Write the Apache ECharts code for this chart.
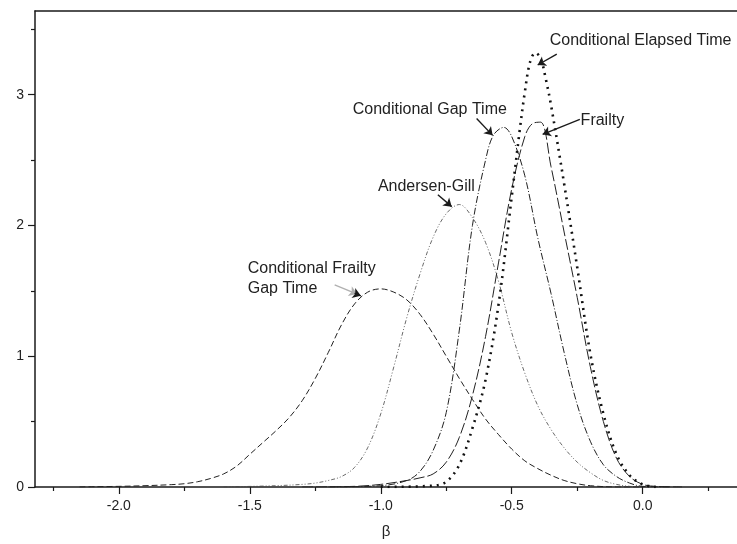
<!DOCTYPE html>
<html>
<head>
<meta charset="utf-8">
<script src="https://cdn.jsdelivr.net/npm/echarts@6/dist/echarts.min.js"></script>
<style>
  html, body { margin: 0; padding: 0; background: #fff; }
  #chart { width: 737px; height: 544px; }
</style>
</head>
<body>
<div id="chart"></div>
<script>
// tick positions
const xLabelValues = [-2.0, -1.5, -1.0, -0.5, 0.0]
const xMinorValues = [-2.25, -1.75, -1.25, -0.75, -0.25, 0.25]
const yLabelValues = [0, 1, 2, 3]
const yMinorValues = [0.5, 1.5, 2.5, 3.5]

// Conditional Frailty Gap Time
const fgX = [-2.15, -2.0, -1.9, -1.8, -1.75, -1.7, -1.65, -1.6, -1.55, -1.5, -1.45, -1.4, -1.35, -1.3, -1.25, -1.2, -1.15, -1.1, -1.05, -1.0, -0.95, -0.9, -0.85, -0.8, -0.75, -0.7, -0.65, -0.6, -0.55, -0.5, -0.45, -0.4, -0.35, -0.3, -0.25, -0.2, -0.1, 0.0]
const fgY = [0, 0.005, 0.01, 0.018, 0.025, 0.04, 0.065, 0.1, 0.16, 0.25, 0.34, 0.43, 0.53, 0.66, 0.83, 1.03, 1.24, 1.4, 1.49, 1.515, 1.49, 1.43, 1.32, 1.17, 1.0, 0.83, 0.67, 0.52, 0.4, 0.29, 0.2, 0.14, 0.09, 0.05, 0.025, 0.01, 0, 0]

// Andersen-Gill
const agX = [-1.6, -1.4, -1.3, -1.25, -1.2, -1.15, -1.1, -1.05, -1.0, -0.95, -0.9, -0.85, -0.8, -0.75, -0.7, -0.65, -0.6, -0.55, -0.5, -0.45, -0.4, -0.35, -0.3, -0.25, -0.2, -0.15, -0.1, -0.05, 0.0]
const agY = [0, 0.01, 0.02, 0.03, 0.05, 0.08, 0.15, 0.3, 0.56, 0.92, 1.3, 1.63, 1.91, 2.09, 2.16, 2.06, 1.87, 1.57, 1.18, 0.87, 0.62, 0.44, 0.3, 0.19, 0.11, 0.05, 0.02, 0.005, 0]

// Conditional Gap Time
const cgX = [-1.2, -1.0, -0.9, -0.85, -0.8, -0.75, -0.7, -0.65, -0.6, -0.57, -0.53, -0.5, -0.45, -0.4, -0.35, -0.3, -0.25, -0.2, -0.15, -0.1, -0.05, 0.0, 0.1]
const cgY = [0, 0.01, 0.05, 0.12, 0.28, 0.57, 1.2, 2.0, 2.5, 2.69, 2.75, 2.68, 2.38, 1.9, 1.48, 1.03, 0.63, 0.35, 0.17, 0.08, 0.03, 0.005, 0]

// Frailty
const frX = [-1.3, -1.1, -1.0, -0.9, -0.85, -0.8, -0.75, -0.7, -0.65, -0.6, -0.55, -0.5, -0.45, -0.42, -0.39, -0.35, -0.3, -0.25, -0.2, -0.15, -0.1, -0.05, 0.0, 0.05, 0.15]
const frY = [0, 0.005, 0.02, 0.05, 0.07, 0.1, 0.19, 0.38, 0.7, 1.15, 1.72, 2.28, 2.68, 2.78, 2.79, 2.45, 1.95, 1.45, 0.92, 0.5, 0.22, 0.08, 0.02, 0.005, 0]

// Conditional Elapsed Time
const ceX = [-1.0, -0.8, -0.75, -0.7, -0.65, -0.6, -0.55, -0.5, -0.47, -0.45, -0.43, -0.41, -0.39, -0.37, -0.35, -0.3, -0.25, -0.2, -0.15, -0.1, -0.05, 0.0, 0.05]
const ceY = [0, 0.01, 0.04, 0.17, 0.45, 0.82, 1.4, 2.22, 2.72, 3.02, 3.25, 3.32, 3.28, 3.12, 2.92, 2.32, 1.68, 1.02, 0.56, 0.25, 0.09, 0.02, 0]

const FONT = 'Liberation Sans, Arial, sans-serif'
const INK = '#1a1a1a'

const pairs = (xs, ys) => xs.map((x, i) => [x, ys[i]])

// text label anchored at a data point (left edge, vertical middle)
const note = (text, coord) => ({
  coord,
  symbol: 'rect',
  symbolSize: 0,
  label: {
    show: true,
    position: 'right',
    distance: 0,
    formatter: text,
    fontFamily: FONT,
    fontSize: 16,
    lineHeight: 20,
    color: '#222'
  }
})

const arrow = (from, to, color) => [
  { coord: from, lineStyle: { color: color || INK } },
  { coord: to }
]

const curve = (name, xs, ys, lineStyle, notes, arrows) => ({
  name,
  type: 'line',
  data: pairs(xs, ys),
  smooth: 0.35,
  showSymbol: false,
  symbol: 'none',
  lineStyle: Object.assign({ color: INK, width: 1 }, lineStyle),
  markPoint: { silent: true, data: notes },
  markLine: {
    silent: true,
    symbol: ['none', 'arrow'],
    symbolSize: 8,
    label: { show: false },
    lineStyle: { color: INK, width: 1.4, type: 'solid' },
    data: arrows
  }
})

const chart = echarts.init(document.getElementById('chart'))

const tickLabel = { fontFamily: FONT, fontSize: 14, color: '#222' }

chart.setOption({
  animation: false,
  grid: { left: 35, right: 0, top: 11, bottom: 52 },
  xAxis: [
    {
      type: 'value', min: -2.32, max: 0.36,
      name: 'β', nameLocation: 'middle', nameGap: 37,
      nameTextStyle: { fontFamily: FONT, fontSize: 15, color: '#222' },
      axisLine: { onZero: false, lineStyle: { color: INK, width: 1.5 } },
      axisTick: { show: true, length: 7, customValues: xLabelValues, lineStyle: { color: INK, width: 1.2 } },
      axisLabel: Object.assign({ customValues: xLabelValues, margin: 12, formatter: v => v.toFixed(1) }, tickLabel),
      splitLine: { show: false }
    },
    {
      type: 'value', min: -2.32, max: 0.36, position: 'bottom',
      axisLine: { show: false, onZero: false },
      axisTick: { show: true, length: 4, customValues: xMinorValues, lineStyle: { color: INK, width: 1.2 } },
      axisLabel: { show: false },
      splitLine: { show: false }
    },
    {
      type: 'value', min: -2.32, max: 0.36, position: 'top',
      axisLine: { onZero: false, lineStyle: { color: INK, width: 1.5 } },
      axisTick: { show: false },
      axisLabel: { show: false },
      splitLine: { show: false }
    }
  ],
  yAxis: [
    {
      type: 'value', min: 0, max: 3.64, position: 'left',
      axisLine: { show: true, onZero: false, lineStyle: { color: INK, width: 1.5 } },
      axisTick: { show: true, length: 7, customValues: yLabelValues, lineStyle: { color: INK, width: 1.2 } },
      axisLabel: Object.assign({ customValues: yLabelValues, margin: 11 }, tickLabel),
      splitLine: { show: false }
    },
    {
      type: 'value', min: 0, max: 3.64, position: 'left',
      axisLine: { show: false, onZero: false },
      axisTick: { show: true, length: 4, customValues: yMinorValues, lineStyle: { color: INK, width: 1.2 } },
      axisLabel: { show: false },
      splitLine: { show: false }
    }
  ],
  series: [
    curve('Conditional Frailty Gap Time', fgX, fgY,
      { type: [6, 3], width: 1, color: '#222' },
      [note('Conditional Frailty\nGap Time', [-1.508, 1.59])],
      [arrow([-1.176, 1.545], [-1.09, 1.475], '#b0b0b0'), arrow([-1.1, 1.48], [-1.076, 1.462])]),
    curve('Andersen-Gill', agX, agY,
      { type: [4, 2, 1, 2, 1, 2], width: 0.8, color: '#444' },
      [note('Andersen-Gill', [-1.011, 2.297])],
      [arrow([-0.782, 2.235], [-0.729, 2.144])]),
    curve('Conditional Gap Time', cgX, cgY,
      { type: [7, 2, 1, 2], width: 1, color: '#222' },
      [note('Conditional Gap Time', [-1.107, 2.888])],
      [arrow([-0.634, 2.818], [-0.573, 2.689])]),
    curve('Frailty', frX, frY,
      { type: [11, 3], width: 1, color: '#222' },
      [note('Frailty', [-0.237, 2.8])],
      [arrow([-0.24, 2.811], [-0.382, 2.697])]),
    curve('Conditional Elapsed Time', ceX, ceY,
      { type: [2, 5], width: 2.6, color: '#111' },
      [note('Conditional Elapsed Time', [-0.355, 3.41])],
      [arrow([-0.328, 3.311], [-0.401, 3.227])])
  ]
})
</script>
</body>
</html>
